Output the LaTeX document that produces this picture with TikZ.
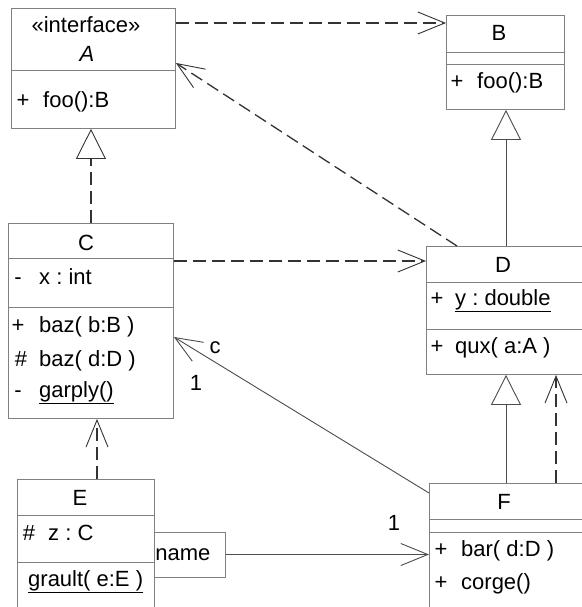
\documentclass[tikz,border=0pt]{standalone}
\usepackage{fontspec}
\setmainfont{Liberation Sans}
\usetikzlibrary{arrows.meta}
\newcommand\umlfnt{\fontsize{22bp}{26bp}\selectfont}
\frenchspacing
\begin{document}
\begin{tikzpicture}[x=1bp,y=-1bp,
  box/.style={draw=black!50, fill=white, line width=0.9bp, inner sep=0pt, anchor=north west},
  div/.style={draw=black!50, line width=0.9bp},
  txt/.style={inner sep=0pt, anchor=base west, font=\umlfnt},
  ctxt/.style={inner sep=0pt, anchor=base, font=\umlfnt},
  dep/.style={draw=black!80, line width=1.3bp, dash pattern=on 13bp off 6bp, -{Straight Barb[length=27bp,width=22bp,line width=0.9bp]}},
  gen/.style={draw=black!70, line width=0.9bp, -{Triangle[open,length=30bp,width=30bp,fill=white]}},
  real/.style={draw=black!80, line width=1.3bp, dash pattern=on 13bp off 6bp, -{Triangle[open,length=30bp,width=30bp,fill=white,line width=0.9bp]}},
  assoc/.style={draw=black!70, line width=0.9bp, -{Straight Barb[length=27bp,width=22bp]}},
]
\path[use as bounding box, clip] (0,0) rectangle (582,607);
\fill[white] (0,0) rectangle (582,607);

% boxes
\node[box, minimum width=164bp, minimum height=120bp] (A) at (11,8) {};
\node[box, minimum width=118bp, minimum height=94bp] (B) at (446,15) {};
\node[box, minimum width=165bp, minimum height=195bp] (C) at (8,223) {};
\node[box, minimum width=170bp, minimum height=128bp] (D) at (426,246) {};
\node[box, minimum width=137bp, minimum height=150bp] (E) at (17,479) {};
\node[box, minimum width=170bp, minimum height=150bp] (F) at (429,483) {};
\node[box, anchor=west, minimum width=71bp, minimum height=45bp, text width=69bp, inner xsep=1bp, align=left, font=\umlfnt] (Q) at (154,554.5) {name};

% dividers
\draw[div] (11,70) -- (175,70);
\draw[div] (446,52) -- (564,52);
\draw[div] (446,64) -- (564,64);
\draw[div] (8,258) -- (173,258);
\draw[div] (8,307) -- (173,307);
\draw[div] (426,282) -- (596,282);
\draw[div] (426,329) -- (596,329);
\draw[div] (17,515) -- (154,515);
\draw[div] (17,562) -- (154,562);
\draw[div] (429,519) -- (599,519);
\draw[div] (429,532) -- (599,532);

% texts A
\node[ctxt] (tA1) at (86,33) {«interface»};
\node[ctxt] (tA2) at (87,62) {\itshape A};
\node[ctxt] (tA3) at (23,108) {+};
\node[txt] (tA4) at (43,108) {foo():B};
% B
\node[ctxt] (tB1) at (499,41) {B};
\node[ctxt] (tB2) at (457,89) {+};
\node[txt] (tB3) at (477,89) {foo():B};
% C
\node[ctxt] (tC1) at (86,250) {C};
\node[ctxt] (tC2) at (18,284) {-};
\node[txt] (tC3) at (39,284) {x : int};
\node[ctxt] (tC4) at (18,332) {+};
\node[txt] (tC5) at (39,332) {baz( b:B )};
\node[ctxt] (tC6) at (21,366) {\#};
\node[txt] (tC7) at (39,366) {baz( d:D )};
\node[ctxt] (tC8) at (18,397) {-};
\node[txt] (tC9) at (39,397) {\underline{garply()}};
% D
\node[ctxt] (tD1) at (503,272) {D};
\node[ctxt] (tD2) at (437,305) {+};
\node[txt] (tD3) at (455,305) {\underline{y : double}};
\node[ctxt] (tD4) at (437,353) {+};
\node[txt] (tD5) at (455,353) {qux( a:A )};
% E
\node[ctxt] (tE1) at (80,505) {E};
\node[ctxt] (tE2) at (29,540) {\#};
\node[txt] (tE3) at (48,540) {z : C};
\node[txt] (tE4) at (28,586) {\underline{grault( e:E )}};
% F
\node[ctxt] (tF1) at (504,509) {F};
\node[ctxt] (tF2) at (441,556) {+};
\node[txt] (tF3) at (461,556) {bar( d:D )};
\node[ctxt] (tF4) at (441,589) {+};
\node[txt] (tF5) at (461,589) {corge()};

% connector points
\coordinate (a1) at ([yshift=-15bp]A.north east);
\coordinate (a2) at ([yshift=-55bp]A.north east);
\coordinate (d1) at ([xshift=31bp]D.north west);
\coordinate (d2) at ([xshift=80bp]D.north west);
\coordinate (c1) at ([yshift=-38bp]C.north east);
\coordinate (c2) at ([yshift=-114bp]C.north east);
\coordinate (f1) at ([yshift=-10bp]F.north west);
\coordinate (f2) at ([xshift=77bp]F.north west);
\coordinate (f3) at ([xshift=127bp]F.north west);
\coordinate (e1) at ([xshift=80bp]E.north west);

% connectors
\draw[dep] (a1) -- (a1 -| B.west);
\draw[dep] (d1) -- (a2);
\draw[gen] (d2) -- (d2 |- B.south);
\draw[real] (C.north) -- (C.north |- A.south);
\draw[dep] (c1) -- (c1 -| D.west);
\draw[assoc] (f1) -- (c2);
\draw[gen] (f2) -- (f2 |- D.south);
\draw[dep] (f3) -- (f3 |- D.south);
\draw[dep] (e1) -- (e1 |- C.south);
\draw[assoc] (Q.east) -- (Q.east -| F.west);

% labels
\node[ctxt] (l1) at (215,353) {c};
\node[ctxt] (l2) at (196,390) {1};
\node[ctxt] (l3) at (394,530) {1};
\end{tikzpicture}
\end{document}
